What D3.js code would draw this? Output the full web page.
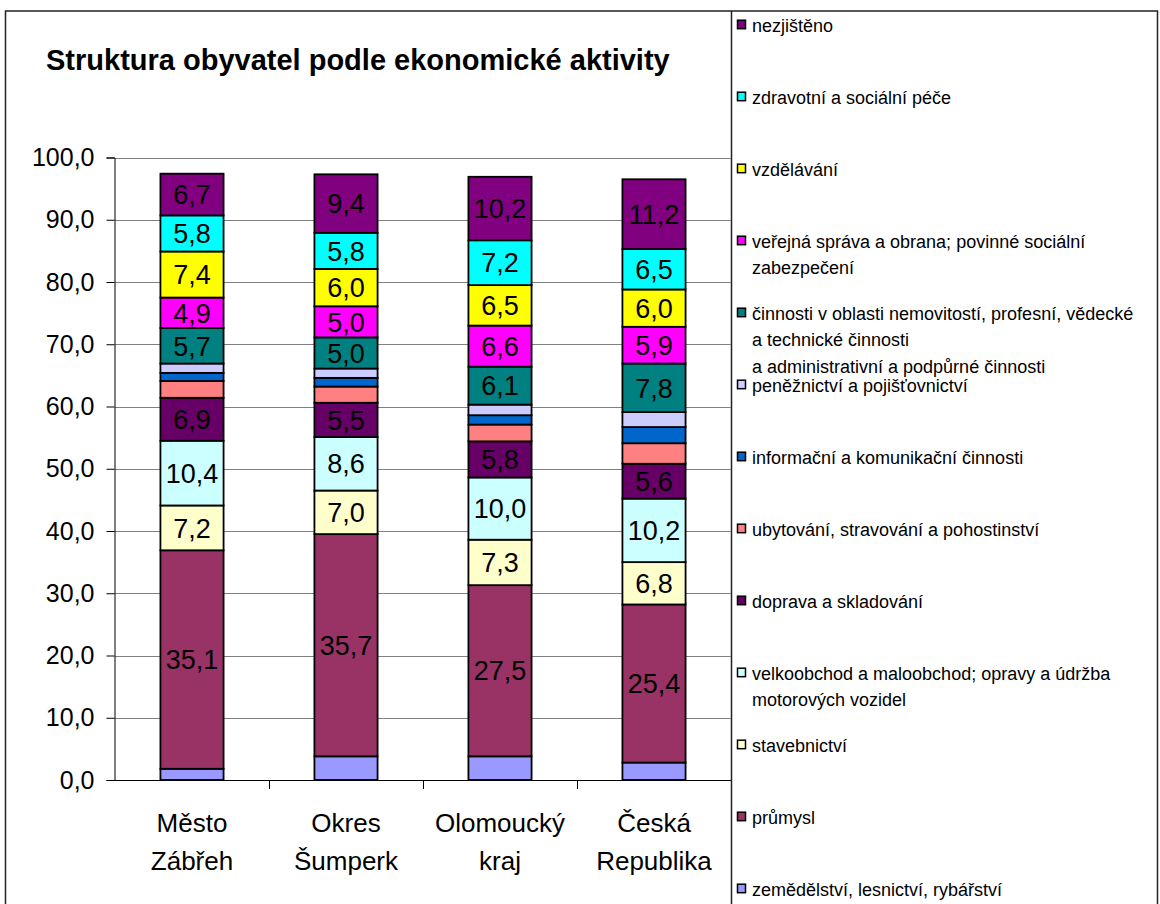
<!DOCTYPE html>
<html><head><meta charset="utf-8">
<script src="https://cdn.jsdelivr.net/npm/d3@7"></script>
<style>
body{margin:0;background:#fff}
svg{display:block}
text{font-family:"Liberation Sans",Arial,sans-serif;fill:#000}
</style>
</head><body>
<svg id="chart" width="1160" height="904"></svg>
<script>
// ---- data ----
const categories = ["Město Zábřeh", "Okres Šumperk", "Olomoucký kraj", "Česká Republika"];
const categoryLines = [["Město", "Zábřeh"], ["Okres", "Šumperk"], ["Olomoucký", "kraj"], ["Česká", "Republika"]];

// series, bottom of stack first
const seriesKeys = ["zem", "prum", "stav", "velk", "dopr", "ubyt", "info", "pene", "cinn", "vere", "vzde", "zdra", "nezj"];
const seriesLegend = [
  ["zemědělství, lesnictví, rybářství"],
  ["průmysl"],
  ["stavebnictví"],
  ["velkoobchod a maloobchod; opravy a údržba", "motorových vozidel"],
  ["doprava a skladování"],
  ["ubytování, stravování a pohostinství"],
  ["informační a komunikační činnosti"],
  ["peněžnictví a pojišťovnictví"],
  ["činnosti v oblasti nemovitostí, profesní, vědecké", "a technické činnosti", "a administrativní a podpůrné činnosti"],
  ["veřejná správa a obrana; povinné sociální", "zabezpečení"],
  ["vzdělávání"],
  ["zdravotní a sociální péče"],
  ["nezjištěno"]
];
const seriesColors = ["#9999FF", "#993366", "#FFFFCC", "#CCFFFF", "#660066", "#FF8080", "#0066CC", "#CCCCFF", "#008080", "#FF00FF", "#FFFF00", "#00FFFF", "#800080"];

const zem  = [1.8, 3.8, 3.8, 2.8];
const prum = [35.1, 35.7, 27.5, 25.4];
const stav = [7.2, 7.0, 7.3, 6.8];
const velk = [10.4, 8.6, 10.0, 10.2];
const dopr = [6.9, 5.5, 5.8, 5.6];
const ubyt = [2.7, 2.6, 2.7, 3.3];
const info = [1.3, 1.4, 1.5, 2.6];
const pene = [1.5, 1.5, 1.7, 2.4];
const cinn = [5.7, 5.0, 6.1, 7.8];
const vere = [4.9, 5.0, 6.6, 5.9];
const vzde = [7.4, 6.0, 6.5, 6.0];
const zdra = [5.8, 5.8, 7.2, 6.5];
const nezj = [6.7, 9.4, 10.2, 11.2];
// segments that carry a value label
const labeledKeys = ["prum", "stav", "velk", "dopr", "cinn", "vere", "vzde", "zdra", "nezj"];

const yTicks = [0, 10, 20, 30, 40, 50, 60, 70, 80, 90, 100];
const titleText = "Struktura obyvatel podle ekonomické aktivity";

// ---- build table ----
const seriesValues = {zem, prum, stav, velk, dopr, ubyt, info, pene, cinn, vere, vzde, zdra, nezj};
const table = categories.map((c, i) => {
  const row = {cat: c};
  seriesKeys.forEach(k => row[k] = seriesValues[k][i]);
  return row;
});

const svg = d3.select("#chart");
const fmt = v => d3.format(".1f")(v).replace(".", ",");

const x = d3.scaleBand().domain(categories).range([115, 731]).paddingInner(0.59).paddingOuter(0.295);
const y = d3.scaleLinear().domain([0, 100]).range([780, 157.5]);

// outer frames
svg.append("rect").attr("x", 5.5).attr("y", 11).attr("width", 1152).attr("height", 900)
  .attr("fill", "none").attr("stroke", "#222").attr("stroke-width", 1.5);
svg.append("line").attr("x1", 731.5).attr("x2", 731.5).attr("y1", 11).attr("y2", 904)
  .attr("stroke", "#222").attr("stroke-width", 1.5);

// title
svg.append("text").attr("x", 46).attr("y", 70).attr("font-size", 29).attr("font-weight", "bold").text(titleText);

// gridlines
svg.append("g").selectAll("line").data(yTicks.filter(t => t > 0)).join("line")
  .attr("x1", 115).attr("x2", 731).attr("y1", d => Math.round(y(d)) + 0.5).attr("y2", d => Math.round(y(d)) + 0.5)
  .attr("stroke", "#808080").attr("stroke-width", 1);

// y axis
const yAxis = svg.append("g").attr("transform", "translate(114.5,0)")
  .call(d3.axisLeft(y).tickValues(yTicks).tickFormat(fmt).tickSize(8).tickPadding(12));
yAxis.select(".domain").attr("stroke", "#000");
yAxis.selectAll(".tick line").attr("stroke", "#000");
yAxis.selectAll(".tick text").attr("font-size", 25).attr("font-family", "Liberation Sans, Arial, sans-serif").attr("fill", "#000");

// bars
const stack = d3.stack().keys(seriesKeys)(table);
const color = d3.scaleOrdinal().domain(seriesKeys).range(seriesColors);
const layers = svg.append("g").selectAll("g").data(stack).join("g").attr("fill", d => color(d.key));
layers.selectAll("rect").data(d => d).join("rect")
  .attr("x", d => x(d.data.cat))
  .attr("width", x.bandwidth())
  .attr("y", d => y(d[1]))
  .attr("height", d => y(d[0]) - y(d[1]))
  .attr("stroke", "#000").attr("stroke-width", 1.8);

// value labels
const lab = svg.append("g");
stack.filter(s => labeledKeys.includes(s.key)).forEach(s => {
  lab.selectAll(null).data(s).join("text")
    .attr("x", d => x(d.data.cat) + x.bandwidth() / 2)
    .attr("y", d => (y(d[0]) + y(d[1])) / 2)
    .attr("dy", "0.36em")
    .attr("text-anchor", "middle")
    .attr("font-size", 27)
    .text(d => fmt(d[1] - d[0]));
});

// x axis baseline and ticks
svg.append("line").attr("x1", 114.5).attr("x2", 731).attr("y1", y(0) + 0.5).attr("y2", y(0) + 0.5).attr("stroke", "#000");
const step = x.step();
const bounds = categories.slice(1).map(c => x(c) - step * x.paddingInner() / 2);
svg.append("g").selectAll("line").data(bounds).join("line")
  .attr("x1", d => Math.round(d) + 0.5).attr("x2", d => Math.round(d) + 0.5)
  .attr("y1", y(0)).attr("y2", y(0) + 9).attr("stroke", "#000");

// category labels
categoryLines.forEach((lines, i) => {
  const cx = x(categories[i]) + x.bandwidth() / 2;
  lines.forEach((ln, j) => {
    svg.append("text").attr("x", cx).attr("y", 832 + j * 37.5).attr("text-anchor", "middle")
      .attr("font-size", 26).text(ln);
  });
});

// legend (top to bottom = reversed series)
const legendOrder = seriesKeys.map((k, i) => i).reverse();
const lg = svg.append("g");
legendOrder.forEach((si, row) => {
  const base = 31.7 + row * 72;
  lg.append("rect").attr("x", 737.5).attr("y", base - 11.5).attr("width", 8).attr("height", 8.5)
    .attr("fill", seriesColors[si]).attr("stroke", "#000").attr("stroke-width", 1.5);
  seriesLegend[si].forEach((ln, j) => {
    lg.append("text").attr("x", 752).attr("y", base + j * 26.7).attr("font-size", 18).text(ln);
  });
});
</script>
</body></html>
